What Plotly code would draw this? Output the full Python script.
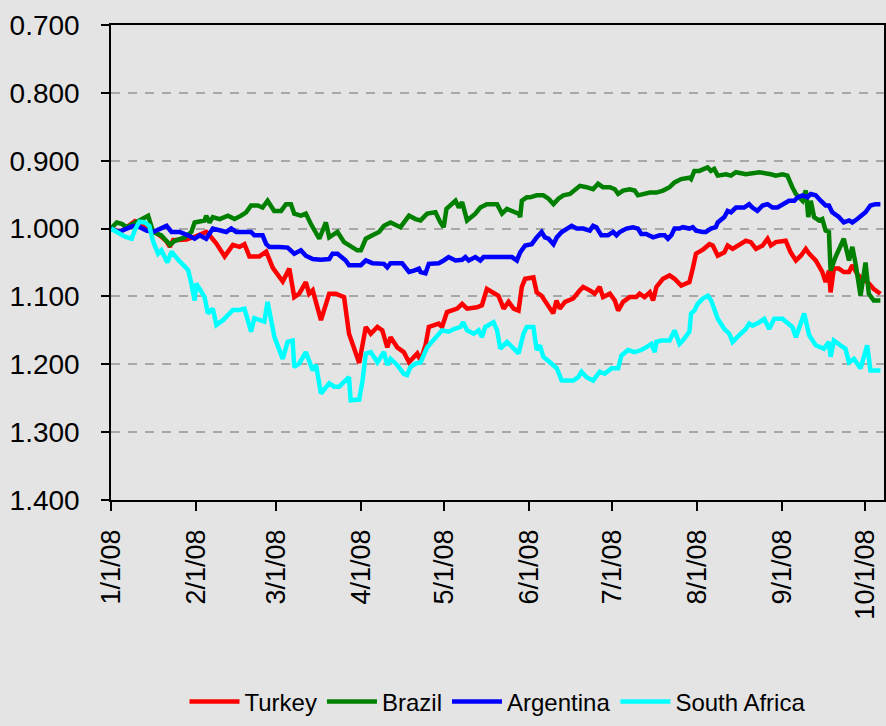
import pandas as pd
import plotly.graph_objects as go

# x positions are days since 1/1/08
turkey_day = [0, 3.3, 8.7, 11.7, 15.9, 18.3, 20.2, 21.4, 22.6, 24.4, 27.4, 30.4, 32.8, 34.6, 35.8, 38.3, 41.3, 44.3,
              46.7, 48.5, 50.3, 53.9, 56.4, 58.8, 62.4, 64.8, 66.6, 68.4, 70.8, 72.0, 73.3, 76.3, 79.3, 81.7, 84.7,
              86.5, 90.2, 92.6, 94.4, 96.8, 98.6, 100.4, 101.6, 104.0, 106.4, 108.3, 111.3, 112.5, 114.3, 115.5,
              119.1, 120.3, 122.1, 125.8, 127.6, 129.4, 133.0, 134.8, 136.6, 139.0, 140.8, 142.7, 144.5, 146.3,
              148.1, 149.3, 150.5, 153.5, 154.7, 156.5, 158.3, 160.7, 161.9, 163.1, 165.0, 168.0, 170.4, 171.6,
              174.0, 175.8, 177.6, 178.8, 181.3, 183.1, 184.3, 186.1, 188.5, 190.9, 192.1, 193.9, 195.8, 197.0,
              198.2, 200.6, 203.0, 204.8, 207.2, 210.2, 211.4, 212.6, 215.1, 217.5, 218.7, 220.5, 222.9, 224.1,
              225.9, 228.3, 230.7, 232.5, 234.4, 236.8, 238.6, 239.8, 241.6, 245.2, 247.0, 248.9, 250.7, 252.5,
              253.7, 256.1, 258.5, 259.7, 260.9, 261.5, 262.7, 264.5, 266.3, 268.2, 269.4, 271.2, 273.0, 275.4,
              277.2, 279.6]
turkey = [1.000, 1.005, 0.989, 0.995, 1.005, 1.012, 1.019, 1.027, 1.017, 1.017, 1.016, 1.012, 1.007, 1.005, 1.010,
          1.022, 1.041, 1.024, 1.027, 1.023, 1.041, 1.041, 1.034, 1.058, 1.078, 1.059, 1.101, 1.096, 1.079, 1.096,
          1.091, 1.135, 1.096, 1.096, 1.101, 1.155, 1.198, 1.145, 1.155, 1.145, 1.150, 1.175, 1.160, 1.175, 1.182,
          1.197, 1.184, 1.194, 1.172, 1.145, 1.140, 1.145, 1.123, 1.118, 1.111, 1.118, 1.116, 1.113, 1.089, 1.094,
          1.099, 1.118, 1.108, 1.118, 1.121, 1.086, 1.074, 1.072, 1.094, 1.099, 1.111, 1.125, 1.106, 1.118, 1.108,
          1.103, 1.091, 1.086, 1.091, 1.096, 1.086, 1.101, 1.096, 1.106, 1.121, 1.108, 1.101, 1.101, 1.096, 1.101,
          1.094, 1.106, 1.086, 1.074, 1.069, 1.074, 1.084, 1.079, 1.059, 1.037, 1.031, 1.023, 1.025, 1.040, 1.035,
          1.025, 1.030, 1.023, 1.018, 1.020, 1.030, 1.025, 1.015, 1.025, 1.020, 1.018, 1.035, 1.047, 1.040, 1.030,
          1.037, 1.047, 1.064, 1.079, 1.062, 1.094, 1.059, 1.059, 1.064, 1.064, 1.054, 1.067, 1.074, 1.081, 1.089,
          1.096]

brazil_day = [0, 2.1, 3.9, 5.7, 8.1, 10.5, 13.5, 15.3, 18.3, 21.4, 23.2, 26.8, 29.2, 30.4, 34.0, 34.6, 35.8, 37.0,
              39.5, 42.5, 44.9, 47.3, 49.1, 50.9, 53.3, 55.1, 56.9, 59.3, 61.8, 63.6, 65.4, 66.6, 69.0, 70.8, 72.6,
              75.7, 78.1, 79.3, 82.3, 84.7, 87.1, 89.5, 90.8, 92.6, 95.0, 97.4, 99.2, 101.6, 105.2, 108.3, 110.7,
              112.5, 114.9, 117.9, 119.7, 120.9, 121.9, 125.2, 126.4, 127.6, 129.4, 132.4, 134.2, 136.6, 140.3,
              142.1, 143.9, 146.3, 148.1, 148.7, 149.3, 151.1, 152.3, 154.7, 157.1, 159.0, 160.8, 162.6, 164.4,
              166.8, 169.2, 170.4, 172.8, 175.2, 177.0, 178.8, 181.3, 183.1, 184.3, 186.1, 188.5, 190.3, 191.5,
              193.9, 195.8, 198.2, 200.6, 203.0, 204.8, 207.2, 210.2, 210.8, 212.0, 213.8, 216.8, 218.0, 219.2,
              220.5, 223.5, 225.3, 227.1, 230.7, 235.6, 239.8, 241.6, 244.0, 245.8, 247.6, 248.9, 251.3, 252.5,
              253.4, 254.3, 255.5, 257.3, 258.5, 259.7, 260.9, 261.5, 263.3, 266.3, 268.2, 269.4, 270.6, 272.4,
              274.2, 275.4, 277.2, 279.6]
brazil = [1.000, 0.991, 0.993, 0.998, 0.993, 0.988, 0.981, 1.005, 1.010, 1.024, 1.018, 1.013, 1.005, 0.991, 0.988,
          0.981, 0.991, 0.983, 0.986, 0.981, 0.986, 0.981, 0.976, 0.966, 0.966, 0.969, 0.959, 0.974, 0.974, 0.964,
          0.964, 0.978, 0.981, 0.978, 0.993, 1.015, 0.991, 1.013, 1.005, 1.020, 1.027, 1.032, 1.032, 1.015, 1.010,
          1.005, 0.996, 0.991, 0.998, 0.981, 0.986, 0.988, 0.978, 0.976, 0.991, 0.998, 0.971, 0.959, 0.969, 0.961,
          0.988, 0.978, 0.969, 0.964, 0.964, 0.978, 0.971, 0.976, 0.978, 0.983, 0.959, 0.954, 0.954, 0.951, 0.951,
          0.956, 0.964, 0.956, 0.951, 0.949, 0.942, 0.937, 0.939, 0.942, 0.934, 0.939, 0.939, 0.942, 0.949, 0.944,
          0.942, 0.944, 0.951, 0.949, 0.947, 0.947, 0.944, 0.939, 0.932, 0.927, 0.925, 0.927, 0.915, 0.915, 0.910,
          0.915, 0.912, 0.922, 0.920, 0.922, 0.917, 0.920, 0.917, 0.920, 0.922, 0.920, 0.922, 0.939, 0.949, 0.959,
          0.944, 0.983, 0.959, 0.983, 0.988, 0.986, 1.003, 1.005, 1.062, 1.042, 1.015, 1.047, 1.027, 1.052, 1.099,
          1.050, 1.096, 1.106, 1.106]

argentina_day = [0, 2.7, 5.7, 8.1, 10.5, 12.9, 15.3, 17.8, 20.2, 22.0, 25.0, 28.0, 30.4, 32.2, 34.6, 37.0, 39.5,
                 41.9, 43.7, 45.5, 49.1, 50.9, 52.1, 55.1, 56.4, 57.6, 61.2, 64.2, 66.6, 69.0, 70.8, 73.3, 76.3,
                 79.3, 80.5, 82.3, 85.3, 86.5, 90.8, 92.6, 95.0, 97.4, 99.2, 100.4, 101.6, 105.8, 108.3, 110.1,
                 111.9, 112.5, 114.3, 115.5, 119.1, 120.9, 122.7, 125.2, 127.6, 128.8, 130.0, 132.4, 134.2, 135.4,
                 139.0, 142.7, 145.7, 147.5, 148.7, 150.5, 152.9, 154.7, 156.5, 157.7, 159.0, 160.8, 162.0, 163.8,
                 165.6, 167.4, 169.2, 171.6, 174.0, 175.2, 176.4, 178.2, 180.6, 182.5, 183.7, 184.9, 187.3, 189.7,
                 191.5, 192.7, 194.5, 197.0, 199.4, 201.2, 202.4, 203.6, 204.8, 206.6, 207.8, 210.2, 211.4, 212.6,
                 215.1, 216.2, 218.0, 219.8, 220.5, 222.9, 224.1, 225.3, 227.1, 230.1, 231.9, 233.1, 234.9, 236.8,
                 238.6, 240.4, 242.2, 244.6, 246.4, 248.3, 249.5, 251.3, 253.1, 254.3, 256.1, 257.9, 259.7, 260.9,
                 262.1, 264.5, 266.3, 268.2, 269.4, 271.2, 273.0, 274.2, 276.0, 277.8, 279.6]
argentina = [1.000, 1.005, 1.000, 0.996, 0.998, 1.003, 1.005, 1.000, 0.996, 1.005, 1.005, 1.010, 1.015, 1.010,
             1.015, 1.000, 1.003, 1.005, 1.000, 1.005, 1.005, 1.005, 1.010, 1.010, 1.023, 1.027, 1.027, 1.028,
             1.037, 1.032, 1.040, 1.045, 1.046, 1.045, 1.037, 1.037, 1.047, 1.054, 1.054, 1.047, 1.051, 1.052,
             1.052, 1.057, 1.051, 1.051, 1.064, 1.062, 1.059, 1.064, 1.066, 1.052, 1.051, 1.047, 1.042, 1.047,
             1.046, 1.042, 1.047, 1.042, 1.047, 1.042, 1.042, 1.042, 1.042, 1.047, 1.035, 1.025, 1.023, 1.013,
             1.005, 1.013, 1.015, 1.023, 1.013, 1.005, 1.000, 0.996, 1.000, 1.000, 1.003, 0.996, 0.998, 1.010,
             1.010, 1.005, 1.010, 1.005, 1.000, 0.998, 1.000, 1.008, 1.008, 1.013, 1.010, 1.010, 1.015, 1.010,
             1.000, 1.000, 0.998, 1.000, 0.998, 1.003, 1.005, 1.005, 1.000, 0.998, 0.991, 0.983, 0.974, 0.976,
             0.969, 0.969, 0.964, 0.969, 0.974, 0.966, 0.964, 0.969, 0.969, 0.964, 0.959, 0.959, 0.954, 0.951,
             0.954, 0.949, 0.951, 0.959, 0.966, 0.966, 0.976, 0.983, 0.991, 0.988, 0.991, 0.986, 0.981, 0.976,
             0.966, 0.964, 0.964]

south_africa_day = [0, 2.7, 5.1, 7.5, 8.7, 10.3, 12.3, 13.9, 15.3, 17.1, 18.3, 20.5, 22.0, 24.4, 28.0, 29.2, 30.4,
                    31.0, 34.0, 35.2, 37.0, 38.3, 40.7, 44.3, 46.7, 48.5, 50.9, 52.1, 53.9, 55.7, 56.9, 59.4, 62.4,
                    64.2, 66.0, 66.6, 68.4, 70.8, 73.3, 74.5, 76.3, 79.3, 81.1, 82.9, 86.5, 87.1, 90.2, 91.4, 92.6,
                    94.4, 96.8, 99.2, 100.4, 101.6, 104.0, 106.4, 107.6, 108.8, 110.7, 112.5, 114.9, 117.9, 120.3,
                    122.7, 124.6, 127.0, 128.0, 129.4, 131.8, 133.6, 134.8, 136.0, 139.0, 140.3, 141.5, 143.9, 146.3,
                    148.1, 149.9, 151.1, 153.5, 154.7, 155.9, 157.1, 159.5, 162.0, 163.8, 168.0, 169.8, 171.0, 172.8,
                    175.2, 177.6, 179.4, 181.9, 184.3, 185.5, 187.9, 190.3, 192.7, 194.5, 196.4, 197.6, 198.2, 200.0,
                    203.0, 204.8, 206.6, 207.8, 210.2, 210.8, 212.0, 213.2, 215.1, 216.9, 218.1, 220.5, 222.9, 224.7,
                    225.9, 228.3, 230.7, 231.9, 233.1, 235.6, 237.4, 239.2, 241.0, 244.0, 245.8, 247.6, 248.9, 251.9,
                    253.7, 256.1, 259.1, 260.9, 261.5, 262.7, 265.1, 266.9, 268.2, 270.0, 272.4, 274.8, 276.0, 279.6]
south_africa = [1.000, 1.006, 1.012, 1.015, 1.002, 0.990, 0.991, 0.996, 1.019, 1.037, 1.032, 1.050, 1.034, 1.046,
                1.061, 1.081, 1.106, 1.081, 1.101, 1.125, 1.118, 1.142, 1.135, 1.120, 1.120, 1.118, 1.152, 1.132,
                1.135, 1.137, 1.108, 1.160, 1.192, 1.167, 1.165, 1.204, 1.199, 1.182, 1.209, 1.201, 1.243, 1.228,
                1.233, 1.233, 1.219, 1.253, 1.252, 1.224, 1.184, 1.182, 1.197, 1.182, 1.201, 1.192, 1.201, 1.214,
                1.216, 1.204, 1.199, 1.197, 1.175, 1.160, 1.150, 1.152, 1.148, 1.145, 1.138, 1.150, 1.155, 1.150,
                1.160, 1.145, 1.138, 1.150, 1.177, 1.167, 1.177, 1.184, 1.155, 1.145, 1.145, 1.179, 1.172, 1.189,
                1.197, 1.206, 1.224, 1.224, 1.219, 1.211, 1.219, 1.224, 1.211, 1.214, 1.206, 1.206, 1.187, 1.179,
                1.182, 1.179, 1.175, 1.170, 1.182, 1.167, 1.165, 1.165, 1.150, 1.170, 1.165, 1.152, 1.125, 1.121,
                1.111, 1.103, 1.099, 1.106, 1.133, 1.148, 1.155, 1.167, 1.157, 1.148, 1.140, 1.143, 1.138, 1.133,
                1.148, 1.133, 1.133, 1.140, 1.145, 1.160, 1.125, 1.157, 1.172, 1.177, 1.167, 1.189, 1.165, 1.172,
                1.177, 1.197, 1.192, 1.206, 1.172, 1.209, 1.209]

x_tick_dates = ["2008-01-01", "2008-02-01", "2008-03-01", "2008-04-01", "2008-05-01", "2008-06-01",
                "2008-07-01", "2008-08-01", "2008-09-01", "2008-10-01"]
x_tick_labels = ["1/1/08", "2/1/08", "3/1/08", "4/1/08", "5/1/08", "6/1/08", "7/1/08", "8/1/08", "9/1/08", "10/1/08"]
y_tick_values = [0.7, 0.8, 0.9, 1.0, 1.1, 1.2, 1.3, 1.4]
y_tick_labels = ["0.700", "0.800", "0.900", "1.000", "1.100", "1.200", "1.300", "1.400"]

series = [
    ("Turkey", turkey_day, turkey, "#ff0000"),
    ("Brazil", brazil_day, brazil, "#008000"),
    ("Argentina", argentina_day, argentina, "#0000ff"),
    ("South Africa", south_africa_day, south_africa, "#00ffff"),
]

start = pd.Timestamp("2008-01-01")
FONT = "Liberation Sans, Arial, sans-serif"
BG = "#e4e4e4"

fig = go.Figure()
for name, days, vals, color in series:
    x = start + pd.to_timedelta(days, unit="D")
    fig.add_trace(go.Scatter(x=x, y=vals, name=name, mode="lines",
                             line=dict(color=color, width=4.5)))

fig.update_layout(
    width=886, height=726,
    margin=dict(l=111, r=2, t=25, b=226, autoexpand=False),
    paper_bgcolor=BG, plot_bgcolor=BG,
    font=dict(family=FONT, color="black"),
    showlegend=True,
    legend=dict(orientation="h", x=0.5, xanchor="center", y=-0.425, yanchor="middle",
                font=dict(size=24, family=FONT), bgcolor="rgba(0,0,0,0)",
                itemwidth=50, tracegroupgap=0),
)
fig.update_xaxes(
    type="date", automargin=False,
    range=["2008-01-01", "2008-10-07 22:00"],
    tickmode="array", tickvals=x_tick_dates, ticktext=x_tick_labels,
    tickangle=-90, tickfont=dict(size=27, family=FONT),
    ticks="outside", ticklen=9, tickcolor="black", tickwidth=1.5,
    showline=True, linecolor="black", linewidth=1.5, mirror=True,
    showgrid=False, zeroline=False, ticklabelstandoff=8,
)
fig.update_yaxes(
    automargin=False,
    range=[1.4, 0.7],
    tickmode="array", tickvals=y_tick_values, ticktext=y_tick_labels,
    tickfont=dict(size=28, family=FONT),
    ticks="outside", ticklen=8, tickcolor="black", tickwidth=1.5,
    showline=True, linecolor="black", linewidth=1.5, mirror=True,
    showgrid=True, gridcolor="#a8a8a8", gridwidth=1.5, griddash="9px,8px",
    zeroline=False, ticklabelstandoff=16,
)

fig.write_html(
    "out.html",
    config={"displayModeBar": False},
    post_script="document.body.style.margin='0';document.body.style.overflow='hidden';",
)
